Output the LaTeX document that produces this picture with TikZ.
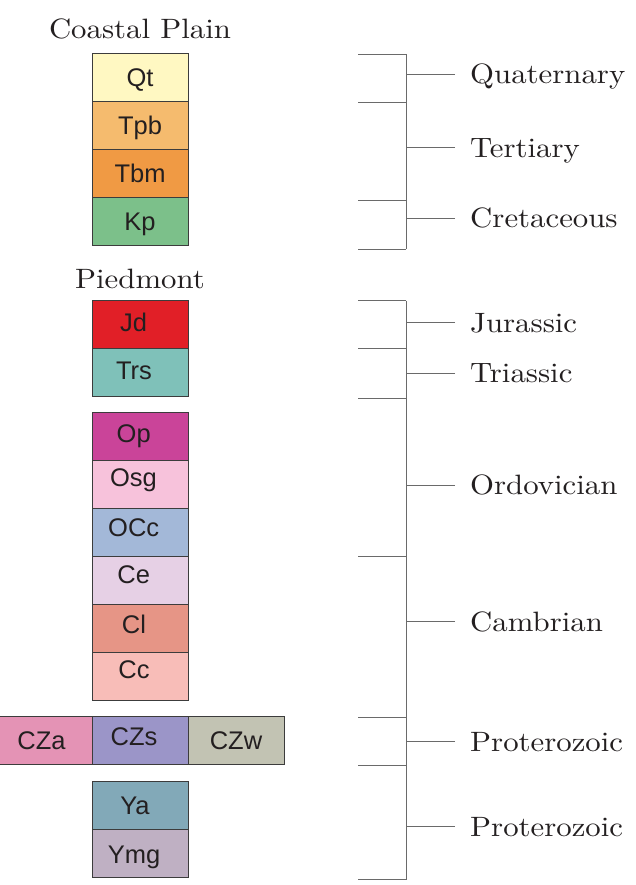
\documentclass[tikz,border=0pt]{standalone}
\usepackage{fontspec}
\newfontfamily\unitfont{Liberation Sans}
\newfontfamily\periodfont{lmroman10-regular.otf}[FakeStretch=1.1]
\usetikzlibrary{positioning,calc}
\definecolor{ink}{HTML}{231F20}
\definecolor{edge}{HTML}{3C3C3C}
\definecolor{rule}{HTML}{6A6A6A}
\definecolor{cQt}{HTML}{FFF8C2}
\definecolor{cTpb}{HTML}{F5BB6E}
\definecolor{cTbm}{HTML}{F09A44}
\definecolor{cKp}{HTML}{7CC08A}
\definecolor{cJd}{HTML}{E11F27}
\definecolor{cTrs}{HTML}{7FC1B9}
\definecolor{cOp}{HTML}{CA4499}
\definecolor{cOsg}{HTML}{F7C2DB}
\definecolor{cOCc}{HTML}{A3B8D8}
\definecolor{cCe}{HTML}{E6D0E5}
\definecolor{cCl}{HTML}{E69586}
\definecolor{cCc}{HTML}{F8BDB8}
\definecolor{cCZa}{HTML}{E493B5}
\definecolor{cCZs}{HTML}{9B95C8}
\definecolor{cCZw}{HTML}{C2C3B3}
\definecolor{cYa}{HTML}{82A9B8}
\definecolor{cYmg}{HTML}{BFB0C3}
\tikzset{
  unit/.style={draw=edge,line width=0.8pt,minimum width=96pt,minimum height=48pt,inner sep=0pt,outer sep=0pt},
  tag/.style={inner sep=0pt,text height=18.3pt,text depth=0pt,text=ink,font=\fontsize{25.5}{28}\unitfont},
  region/.style={inner sep=0pt,text height=19.1pt,text depth=0pt,text=ink,font=\fontsize{28}{34}\periodfont},
  period/.style={region,anchor=west,inner xsep=15pt},
  brace/.style={draw=rule,line width=0.9pt}
}
% one coloured box with its map symbol
\newcommand{\stratum}[6]{%
  \node[unit,fill=c#1,#2] (#1) {};
  \node[tag] (#1-t) at ($(#1.center)+(#4,#5)$) {#3};}

\begin{document}
\begin{tikzpicture}[x=1pt,y=-1pt]
  \useasboundingbox (0,0) rectangle (636,885);

  % Coastal Plain column
  \node[region] (coastal) at (140,29) {Coastal Plain};
  \coordinate (cptop) at (140,53);
  \stratum{Qt}{below=0pt of cptop}{Qt}{0}{0}{}
  \stratum{Tpb}{below=0pt of Qt}{Tpb}{0}{0}{}
  \stratum{Tbm}{below=0pt of Tpb}{Tbm}{0}{0}{}
  \stratum{Kp}{below=0pt of Tbm}{Kp}{0}{0}{}

  % Piedmont column
  \node[region] (piedmont) at (140,279) {Piedmont};
  \coordinate (jdtop) at (140,300.7);
  \coordinate (optop) at (140,412.3);
  \coordinate (cztop) at (140,716.8);
  \coordinate (yatop) at (140,781.2);
  \stratum{Jd}{below=0pt of jdtop}{Jd}{-6.5}{-2.5}{}
  \stratum{Trs}{below=0pt of Jd}{Trs}{-6}{-2.5}{}
  \stratum{Op}{below=0pt of optop}{Op}{-6.3}{-3}{}
  \stratum{Osg}{below=0pt of Op}{Osg}{-6.5}{-6.5}{}
  \stratum{OCc}{below=0pt of Osg}{OCc}{-6.3}{-4.5}{}
  \stratum{Ce}{below=0pt of OCc}{Ce}{-6.3}{-6}{}
  \stratum{Cl}{below=0pt of Ce}{Cl}{-6}{-4}{}
  \stratum{Cc}{below=0pt of Cl}{Cc}{-6}{-7}{}
  \stratum{CZs}{below=0pt of cztop}{CZs}{-6}{-4.3}{}
  \stratum{CZa}{left=0pt of CZs}{CZa}{-2.5}{0}{}
  \stratum{CZw}{right=0pt of CZs}{CZw}{0}{0}{}
  \stratum{Ya}{below=0pt of yatop}{Ya}{-5}{0}{}
  \stratum{Ymg}{below=0pt of Ya}{Ymg}{-6}{1}{}

  % brackets
  \coordinate (top1) at (406,54);
  \coordinate (bot1) at (406,249);
  \draw[brace] (top1) -- (bot1);
  \foreach \y in {54,102.5,200,249} \draw[brace] (358,\y) -- (406,\y);
  \coordinate (top2) at (406,300.5);
  \coordinate (bot2) at (406,879.5);
  \draw[brace] (top2) -- (bot2);
  \foreach \y in {300.5,348.5,398,556,717,765,879.5} \draw[brace] (358,\y) -- (406,\y);

  % periods
  \node[period] (quat) at (455,74.3) {Quaternary};
  \node[period] (tert) at (455,147.7) {Tertiary};
  \node[period] (cret) at (455,218.3) {Cretaceous};
  \node[period] (jura) at (455,322.7) {Jurassic};
  \node[period] (tria) at (455,373.3) {Triassic};
  \node[period] (ordo) at (455,485) {Ordovician};
  \node[period] (camb) at (455,621.7) {Cambrian};
  \node[period] (prot1) at (455,741.7) {Proterozoic};
  \node[period] (prot2) at (455,826.7) {Proterozoic};
  \foreach \p in {quat,tert,cret} \draw[brace] (\p.west) -- (\p.west -| top1);
  \foreach \p in {jura,tria,ordo,camb,prot1,prot2} \draw[brace] (\p.west) -- (\p.west -| top2);
\end{tikzpicture}
\end{document}
